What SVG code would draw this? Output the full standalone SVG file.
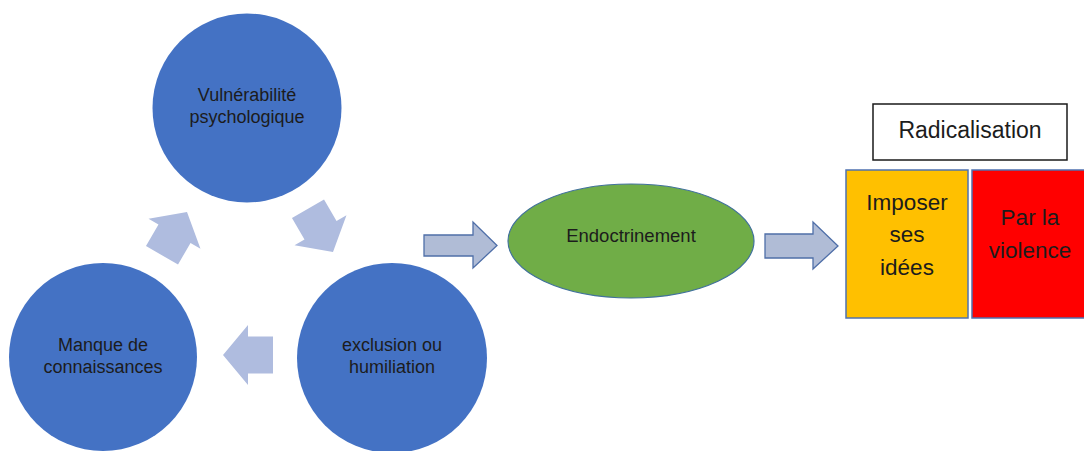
<svg xmlns="http://www.w3.org/2000/svg" width="1084" height="451" viewBox="0 0 1084 451">
<style>
.circ{fill:#4472C4;}
.lbl{font-family:"Liberation Sans",Arial,sans-serif;font-size:18px;fill:#1c1c1c;text-anchor:middle;}
.big{font-family:"Liberation Sans",Arial,sans-serif;font-size:22.5px;fill:#1c1c1c;text-anchor:middle;}
.cyc{fill:#AFBCDF;}
.blk{fill:#B0BCD6;stroke:#4F6FA8;stroke-width:1.3;}
</style>
<defs>
<polygon id="cycArrow" points="0,0 -25,-30 -25,-18.5 -50,-18.5 -50,18.5 -25,18.5 -25,30"/>
</defs>
<rect width="1084" height="451" fill="#ffffff"/>
<g id="connectors">
<use href="#cycArrow" class="cyc" transform="translate(187,212) rotate(-60)"/>
<use href="#cycArrow" class="cyc" transform="translate(333,252) rotate(60)"/>
<use href="#cycArrow" class="cyc" transform="translate(223,355) rotate(180)"/>
<polygon class="blk" points="424,235 473,235 473,222 497,245.5 473,268 473,256 424,256"/>
<polygon class="blk" points="765,234 813,234 813,222 838,246 813,269 813,258 765,258"/>
</g>
<g id="vulnerabilite">
<circle class="circ" cx="247" cy="108" r="94.5"/>
<text class="lbl" x="247" y="101">Vulnérabilité</text>
<text class="lbl" x="247" y="123">psychologique</text>
</g>
<g id="exclusion">
<circle class="circ" cx="392" cy="358" r="95"/>
<text class="lbl" x="392" y="351">exclusion ou</text>
<text class="lbl" x="392" y="373">humiliation</text>
</g>
<g id="manque">
<circle class="circ" cx="103" cy="357" r="94"/>
<text class="lbl" x="103" y="351">Manque de</text>
<text class="lbl" x="103" y="373">connaissances</text>
</g>
<g id="endoctrinement">
<ellipse cx="631" cy="241" rx="123" ry="57" fill="#70AD47" stroke="#41719C" stroke-width="1.2"/>
<text class="lbl" x="631" y="242" style="font-size:18.5px">Endoctrinement</text>
</g>
<g id="radicalisation">
<rect x="873" y="104" width="194" height="56" fill="#ffffff" stroke="#1a1a1a" stroke-width="1.5"/>
<text class="big" x="970" y="138" style="font-size:23px">Radicalisation</text>
</g>
<g id="imposer">
<rect x="846" y="170" width="122" height="148" fill="#FFC000" stroke="#4F72B0" stroke-width="1.5"/>
<text class="big" x="907" y="210">Imposer</text>
<text class="big" x="907" y="242">ses</text>
<text class="big" x="907" y="275">idées</text>
</g>
<g id="violence">
<rect x="972" y="170" width="118" height="148" fill="#FF0000" stroke="#4F72B0" stroke-width="1.5"/>
<text class="big" x="1030" y="225">Par la</text>
<text class="big" x="1030" y="258">violence</text>
</g>
</svg>
